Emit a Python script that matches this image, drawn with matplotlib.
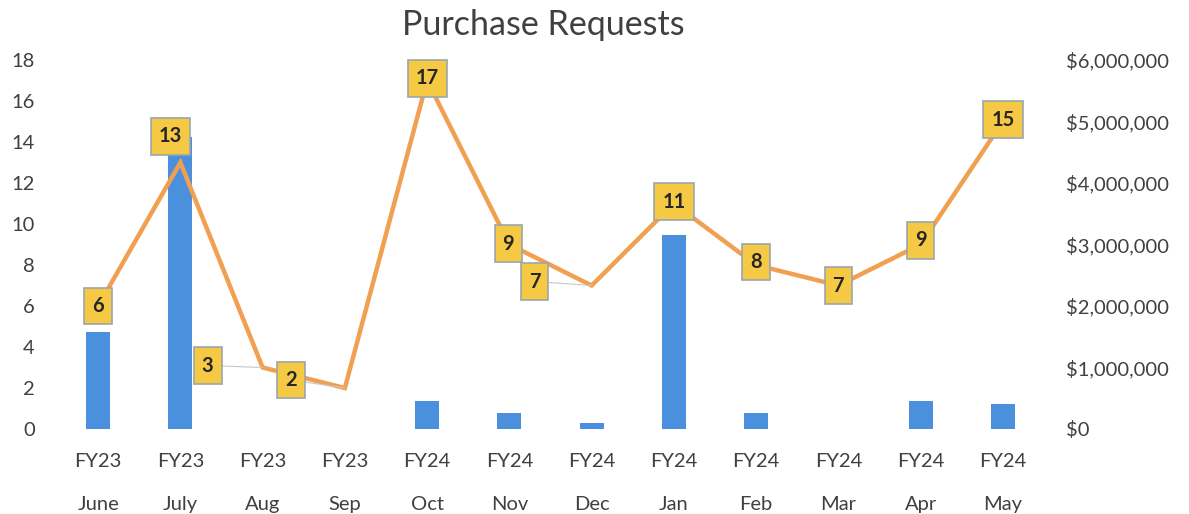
import numpy as np
import matplotlib
matplotlib.use("Agg")
import matplotlib.pyplot as plt
import matplotlib.ticker as ticker

plt.rcParams['font.family'] = ['Lato', 'DejaVu Sans']

fiscal = ["FY23", "FY23", "FY23", "FY23", "FY24", "FY24", "FY24", "FY24", "FY24", "FY24", "FY24", "FY24"]
months = ["June", "July", "Aug", "Sep", "Oct", "Nov", "Dec", "Jan", "Feb", "Mar", "Apr", "May"]
requests = [6, 13, 3, 2, 17, 9, 7, 11, 8, 7, 9, 15]
dollars = [1580000, 4750000, 0, 0, 460000, 260000, 90000, 3160000, 260000, 0, 460000, 410000]

# label offsets in pixels (some labels were dragged aside in the original)
offsets = [(0, 0), (-10, 26), (-55, 2), (-54, 8), (0, 2), (-1, 1),
           (-57, 4), (0, 2), (0, 3), (0, 0), (0, 4), (0, 2)]

text_col = "#404040"
x = np.arange(len(months))

fig = plt.figure(figsize=(11.89, 5.14), dpi=100)
ax = fig.add_axes([57/1189, 1-429/514, (1044-57)/1189, (429-60)/514])
ax2 = ax.twinx()

ax2.bar(x, dollars, width=0.29, color="#4A90DC", zorder=2)
ax2.set_ylim(0, 6000000)
ax2.yaxis.set_major_locator(ticker.MultipleLocator(1000000))
ax2.yaxis.set_major_formatter(ticker.FuncFormatter(lambda v, p: "${:,.0f}".format(v)))

ax.plot(x, requests, color="#F0A050", lw=3.2, solid_joinstyle="miter", zorder=3)
ax.set_ylim(0, 18)
ax.yaxis.set_major_locator(ticker.MultipleLocator(2))
ax.set_xlim(-0.5, len(months)-0.5)
ax.set_xticks(x)
ax.set_xticklabels([f + "\n" + m for f, m in zip(fiscal, months)], linespacing=2.9)

ax.set_zorder(ax2.get_zorder()+1)
ax.patch.set_visible(False)

for i, v in enumerate(requests):
    dx, dy = offsets[i]
    arrow = None
    if abs(dx) > 20:
        arrow = dict(arrowstyle="-", color="#C8C8C8", lw=0.8, shrinkA=0, shrinkB=0)
    ax.annotate(str(v), (x[i], v), xytext=(dx, dy), textcoords="offset pixels",
                ha="center", va="center", fontsize=14.5, fontweight="bold", color="#262626",
                bbox=dict(boxstyle="square,pad=0.4", fc="#F6C944", ec="#9AA6AE", lw=1.2),
                arrowprops=arrow, zorder=5)

for a in (ax, ax2):
    for s in a.spines.values():
        s.set_visible(False)
    a.tick_params(length=0, labelsize=14.5, colors=text_col, pad=16)
ax.tick_params(axis="x", pad=17)

fig.text(543/1189, 1-25/514, "Purchase Requests", ha="center", va="center",
         fontsize=24.5, color=text_col)

fig.savefig("out.png", dpi=100)
